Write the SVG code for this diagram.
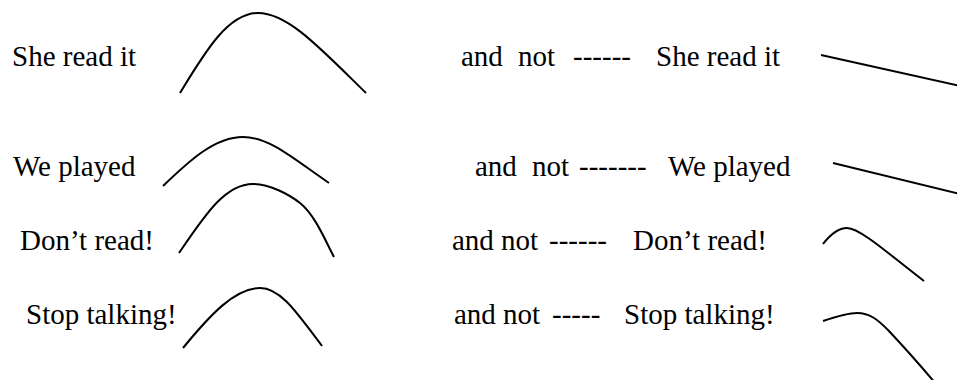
<svg xmlns="http://www.w3.org/2000/svg" width="957" height="380" viewBox="0 0 957 380">
<style>
.t{font-family:"Liberation Serif","Times New Roman",serif;font-size:29px;fill:#000}
.c{fill:none;stroke:#000;stroke-width:2;stroke-linecap:butt}
</style>
<rect width="957" height="380" fill="#fff"/>
<g id="row1-left"><text class="t" x="12" y="66">She read it</text></g>
<g id="row2-left"><text class="t" x="13" y="176">We played</text></g>
<g id="row3-left"><text class="t" x="20" y="250">Don’t read!</text></g>
<g id="row4-left"><text class="t" x="26" y="324">Stop talking!</text></g>
<g id="row1-right"><text class="t" y="66"><tspan x="461">and</tspan><tspan x="518">not</tspan><tspan x="573">------</tspan><tspan x="656">She read it</tspan></text></g>
<g id="row2-right"><text class="t" y="176"><tspan x="475">and</tspan><tspan x="532">not</tspan><tspan x="579">-------</tspan><tspan x="668">We played</tspan></text></g>
<g id="row3-right"><text class="t" y="250"><tspan x="452">and</tspan><tspan x="501">not</tspan><tspan x="549">------</tspan><tspan x="633">Don’t read!</tspan></text></g>
<g id="row4-right"><text class="t" y="324"><tspan x="454">and</tspan><tspan x="503">not</tspan><tspan x="552">-----</tspan><tspan x="624">Stop talking!</tspan></text></g>
<g id="connectors">
<path class="c" d="M180,93 C205,52 228,13 258,13 C288,13 320,48 366,93"/>
<path class="c" d="M163,186 C190,160 215,137 243,137 C270,137 295,160 329,183"/>
<path class="c" d="M179,253 C205,215 225,184 253,184 C270,184 290,195 300,203 C315,215 325,240 334,257"/>
<path class="c" d="M183,348 C210,315 235,288 260,288 C280,288 295,310 322,346"/>
<path class="c" d="M821,55 L960,86"/>
<path class="c" d="M833,163 L960,194"/>
<path class="c" d="M823,244 C830,235 838,228 847,228 C860,228 890,255 924,281"/>
<path class="c" d="M823,321 C835,317 847,313 857,313 C870,313 878,320 888,330 C905,348 920,365 936,384"/>
</g>
</svg>
